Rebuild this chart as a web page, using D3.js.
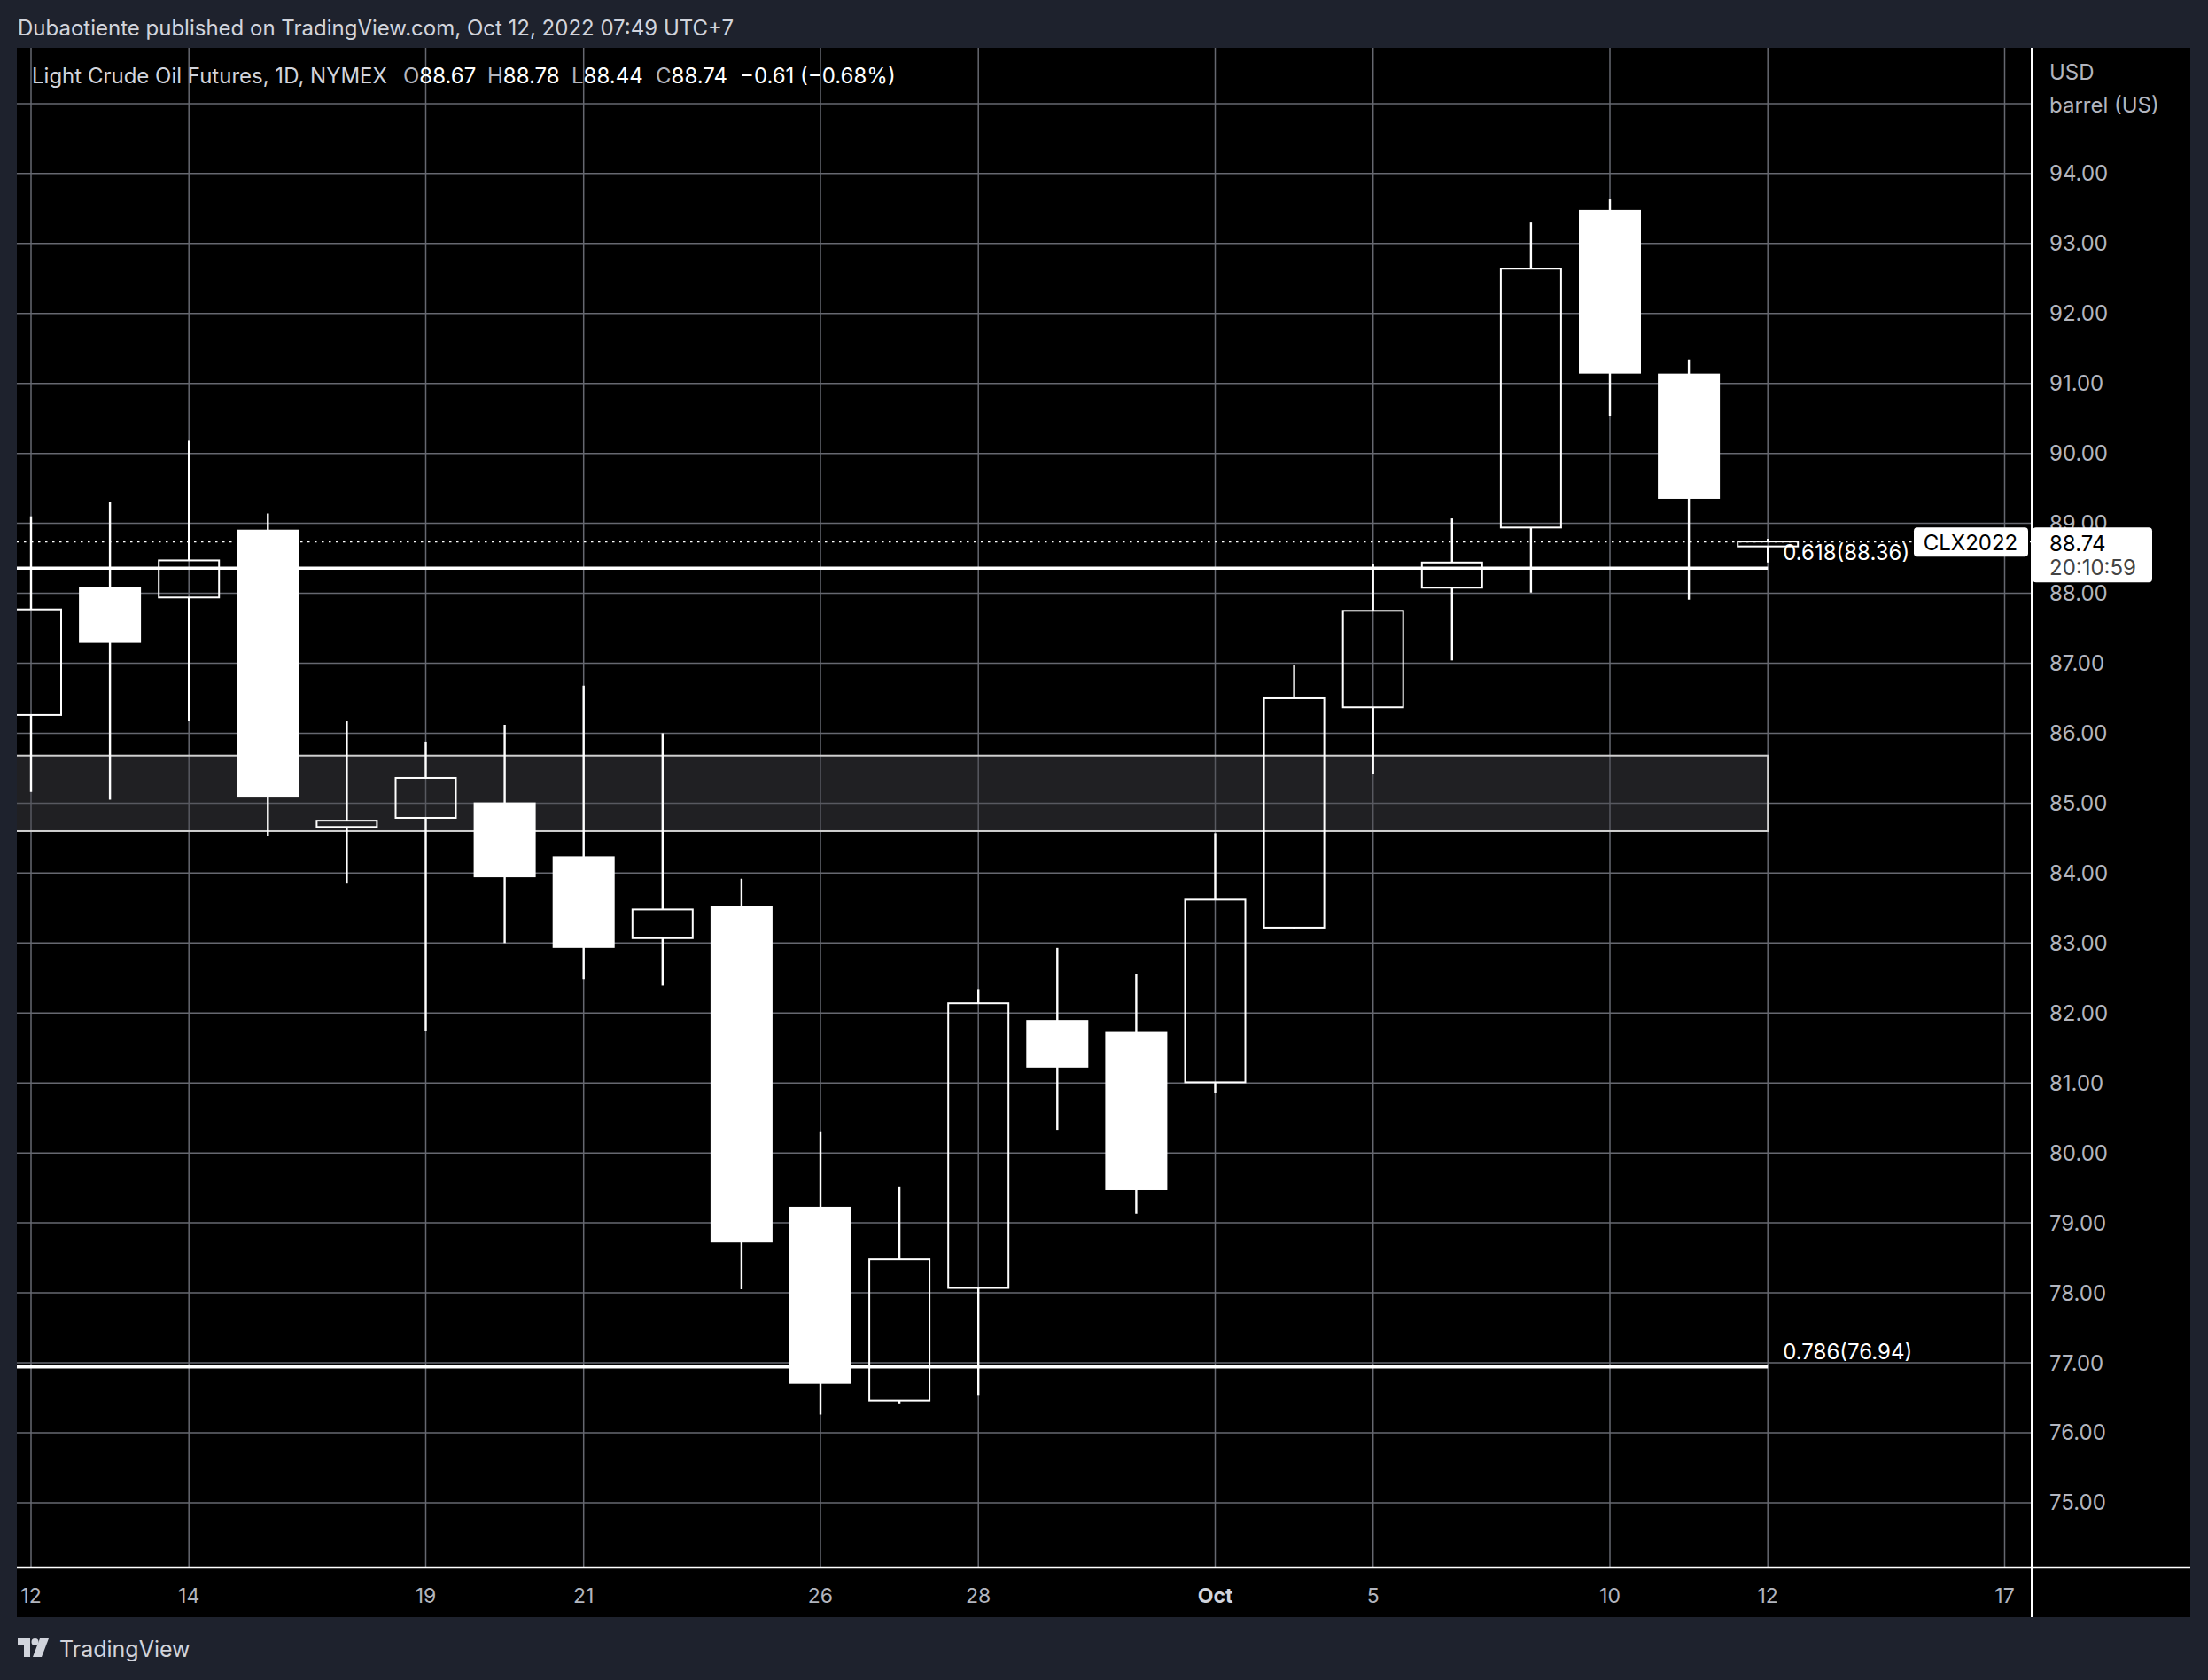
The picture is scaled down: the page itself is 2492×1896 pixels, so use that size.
<!DOCTYPE html>
<html><head><meta charset="utf-8">
<script src="https://cdn.jsdelivr.net/npm/d3@7"></script>
<style>
html,body{margin:0;padding:0;background:#1e222d;}
svg{display:block;}
text{font-family:Inter,"Noto Sans",sans-serif;}
</style></head>
<body>
<script>
// ---- data ----
const dates = ["2022-09-12","2022-09-13","2022-09-14","2022-09-15","2022-09-16",
  "2022-09-19","2022-09-20","2022-09-21","2022-09-22","2022-09-23",
  "2022-09-26","2022-09-27","2022-09-28","2022-09-29","2022-09-30",
  "2022-10-03","2022-10-04","2022-10-05","2022-10-06","2022-10-07",
  "2022-10-10","2022-10-11","2022-10-12"];
const open  = [86.26,88.09,87.94,88.91,84.66,84.79,85.01,84.24,83.07,83.53,79.23,76.46,78.07,81.90,81.73,81.01,83.22,86.37,88.08,88.94,93.48,91.14,88.67];
const high  = [89.10,89.31,90.18,89.14,86.17,85.88,86.12,86.68,86.00,83.92,80.31,79.51,82.34,82.93,82.56,84.57,86.97,88.42,89.07,93.30,93.63,91.34,88.78];
const low   = [85.16,85.05,86.17,84.53,83.85,81.74,83.00,82.48,82.39,78.05,76.26,76.42,76.54,80.33,79.13,80.86,83.20,85.41,87.04,88.01,90.54,87.91,88.44];
const close = [87.77,87.29,88.47,85.08,84.75,85.36,83.94,82.93,83.48,78.72,76.70,78.48,82.14,81.22,79.47,83.62,86.50,87.75,88.44,92.64,91.14,89.35,88.74];

const timeTickIdx    = [0,2,5,7,10,12,15,17,20,22,25];
const timeTickLabels = ["12","14","19","21","26","28","Oct","5","10","12","17"];
const priceGrid   = [75,76,77,78,79,80,81,82,83,84,85,86,87,88,89,90,91,92,93,94,95];
const priceLabels = [75,76,77,78,79,80,81,82,83,84,85,86,87,88,89,90,91,92,93,94];

const fibLevels = [{ratio:"0.618", price:88.36},{ratio:"0.786", price:76.94}];
const zoneRange = [84.60, 85.68];
const lastPrice = 88.74;
const symbolName = "CLX2022";
const countdown = "20:10:59";
const lastIdx = 22;

// ---- layout ----
const W = 2492, H = 1896;
const pane = {x0:19, y0:54, x1:2472, y1:1825};
const axisX = 2293, axisY = 1769;

const svg = d3.select("body").append("svg").attr("width",W).attr("height",H);
svg.append("rect").attr("width",W).attr("height",H).attr("fill","#1e222d");
svg.append("rect").attr("x",pane.x0).attr("y",pane.y0).attr("width",pane.x1-pane.x0).attr("height",pane.y1-pane.y0).attr("fill","#000");

const x = d3.scaleLinear().domain([0,25]).range([35, 35+25*89.1]);
const y = d3.scaleLinear().domain([77,94]).range([1538, 1538-17*78.95]);

svg.append("clipPath").attr("id","plot").append("rect")
  .attr("x",pane.x0).attr("y",pane.y0).attr("width",axisX-pane.x0).attr("height",axisY-pane.y0);
const plot = svg.append("g").attr("clip-path","url(#plot)");

// grid
const gridColor = "#666870";
plot.append("g").selectAll("line").data(priceGrid).join("line")
  .attr("x1",pane.x0).attr("x2",axisX).attr("y1",d=>y(d)).attr("y2",d=>y(d))
  .attr("stroke",gridColor).attr("stroke-width",1.5);
plot.append("g").selectAll("line").data(timeTickIdx).join("line")
  .attr("x1",d=>x(d)).attr("x2",d=>x(d)).attr("y1",pane.y0).attr("y2",axisY)
  .attr("stroke",gridColor).attr("stroke-width",1.5);

// zone rectangle
plot.append("rect").attr("x",pane.x0-5).attr("width",x(lastIdx)-pane.x0+5)
  .attr("y",y(zoneRange[1])).attr("height",y(zoneRange[0])-y(zoneRange[1]))
  .attr("fill","rgba(70,72,78,0.45)").attr("stroke","#d0d0d0").attr("stroke-width",2);

// fib lines
plot.append("g").selectAll("line").data(fibLevels).join("line")
  .attr("x1",pane.x0).attr("x2",x(lastIdx)).attr("y1",d=>y(d.price)).attr("y2",d=>y(d.price))
  .attr("stroke","#fff").attr("stroke-width",3.5);

// last price dotted line
plot.append("line").attr("x1",pane.x0).attr("x2",axisX).attr("y1",y(lastPrice)).attr("y2",y(lastPrice))
  .attr("stroke","#fff").attr("stroke-width",2).attr("stroke-dasharray","2.5,5.5");

// candles
const idx = d3.range(dates.length);
const bw = 70;
const cg = plot.append("g");
idx.forEach(i=>{
  const cx = x(i), up = close[i] >= open[i];
  const top = y(Math.max(open[i],close[i])), bot = y(Math.min(open[i],close[i]));
  const g = cg.append("g");
  if (up) {
    g.append("line").attr("x1",cx).attr("x2",cx).attr("y1",y(high[i])).attr("y2",top).attr("stroke","#fff").attr("stroke-width",2.4);
    g.append("line").attr("x1",cx).attr("x2",cx).attr("y1",bot).attr("y2",y(low[i])).attr("stroke","#fff").attr("stroke-width",2.4);
    g.append("rect").attr("x",cx-bw/2+1).attr("width",bw-2).attr("y",top).attr("height",Math.max(bot-top,1))
      .attr("fill","none").attr("stroke","#fff").attr("stroke-width",2);
  } else {
    g.append("line").attr("x1",cx).attr("x2",cx).attr("y1",y(high[i])).attr("y2",y(low[i])).attr("stroke","#fff").attr("stroke-width",2.4);
    g.append("rect").attr("x",cx-bw/2).attr("width",bw).attr("y",top).attr("height",Math.max(bot-top,1)).attr("fill","#fff");
  }
});

// fib labels
svg.append("g").selectAll("text").data(fibLevels).join("text")
  .attr("x",x(lastIdx)+17).attr("y",d=>y(d.price)-9)
  .attr("fill","#fff").attr("font-size",24)
  .text(d=>`${d.ratio}(${d.price.toFixed(2)})`);

// axes separators
svg.append("line").attr("x1",axisX).attr("x2",axisX).attr("y1",pane.y0).attr("y2",pane.y1).attr("stroke","#fff").attr("stroke-width",2);
svg.append("line").attr("x1",pane.x0).attr("x2",pane.x1).attr("y1",axisY).attr("y2",axisY).attr("stroke","#fff").attr("stroke-width",2.5);

// price labels
const axisCol = "#b2b5be";
svg.append("g").selectAll("text").data(priceLabels).join("text")
  .attr("x",2313).attr("y",d=>y(d)).attr("dominant-baseline","central")
  .attr("fill",axisCol).attr("font-size",24).text(d=>d.toFixed(2));
svg.append("text").attr("x",2313).attr("y",81).attr("dominant-baseline","central").attr("fill",axisCol).attr("font-size",24).text("USD");
svg.append("text").attr("x",2313).attr("y",118).attr("dominant-baseline","central").attr("fill",axisCol).attr("font-size",24).text("barrel (US)");

// time labels
svg.append("g").selectAll("text").data(timeTickIdx).join("text")
  .attr("x",d=>x(d)).attr("y",1801).attr("text-anchor","middle").attr("dominant-baseline","central")
  .attr("fill",(d,i)=>timeTickLabels[i]==="Oct"?"#d1d4dc":axisCol)
  .attr("font-weight",(d,i)=>timeTickLabels[i]==="Oct"?700:400)
  .attr("font-size",23).text((d,i)=>timeTickLabels[i]);

// last price labels
const ly = y(lastPrice);
svg.append("rect").attr("x",2160).attr("y",ly-16).attr("width",129).attr("height",33).attr("rx",4).attr("fill","#fff");
svg.append("text").attr("x",2224).attr("y",ly+1).attr("text-anchor","middle").attr("dominant-baseline","central")
  .attr("fill","#000").attr("font-size",24).text(symbolName);
svg.append("rect").attr("x",2294).attr("y",ly-16).attr("width",135).attr("height",62).attr("rx",4).attr("fill","#fff");
svg.append("text").attr("x",2313).attr("y",ly+2).attr("dominant-baseline","central").attr("fill","#000").attr("font-size",24).text(lastPrice.toFixed(2));
svg.append("text").attr("x",2313).attr("y",ly+29).attr("dominant-baseline","central").attr("fill","#444").attr("font-size",24).text(countdown);

// header
svg.append("text").attr("x",20).attr("y",31).attr("dominant-baseline","central").attr("fill","#d1d4dc").attr("font-size",24)
  .text("Dubaotiente published on TradingView.com, Oct 12, 2022 07:49 UTC+7");

// legend
const L = lastIdx;
const chg = close[L] - close[L-1];
const pct = chg / close[L-1] * 100;
const fmt = v => (v<0?"\u2212":"") + Math.abs(v).toFixed(2);
const lg = svg.append("g").attr("font-size",24);
const ly0 = 85;
lg.append("text").attr("x",36).attr("y",ly0).attr("dominant-baseline","central").attr("fill","#d1d4dc").text("Light Crude Oil Futures, 1D, NYMEX");
const parts = [["O",open[L],455],["H",high[L],550],["L",low[L],645],["C",close[L],740]];
parts.forEach(p=>{
  const t = lg.append("text").attr("x",p[2]).attr("y",ly0).attr("dominant-baseline","central");
  t.append("tspan").attr("fill","#b2b5be").text(p[0]);
  t.append("tspan").attr("fill","#fff").text(p[1].toFixed(2));
});
lg.append("text").attr("x",835).attr("y",ly0).attr("dominant-baseline","central").attr("fill","#fff")
  .text(`${fmt(chg)} (${fmt(pct)}%)`);

// TradingView logo
const logo = svg.append("g").attr("fill","#d1d4dc");
logo.append("path").attr("d","M20,1849 H34 V1870 H27 V1856 H20 Z");
logo.append("circle").attr("cx",39.5).attr("cy",1853).attr("r",4);
logo.append("path").attr("d","M45,1849 H55 L47,1870 H37 Z");
svg.append("text").attr("x",67).attr("y",1861).attr("dominant-baseline","central").attr("fill","#d1d4dc").attr("font-size",25).text("TradingView");
</script>
</body></html>
